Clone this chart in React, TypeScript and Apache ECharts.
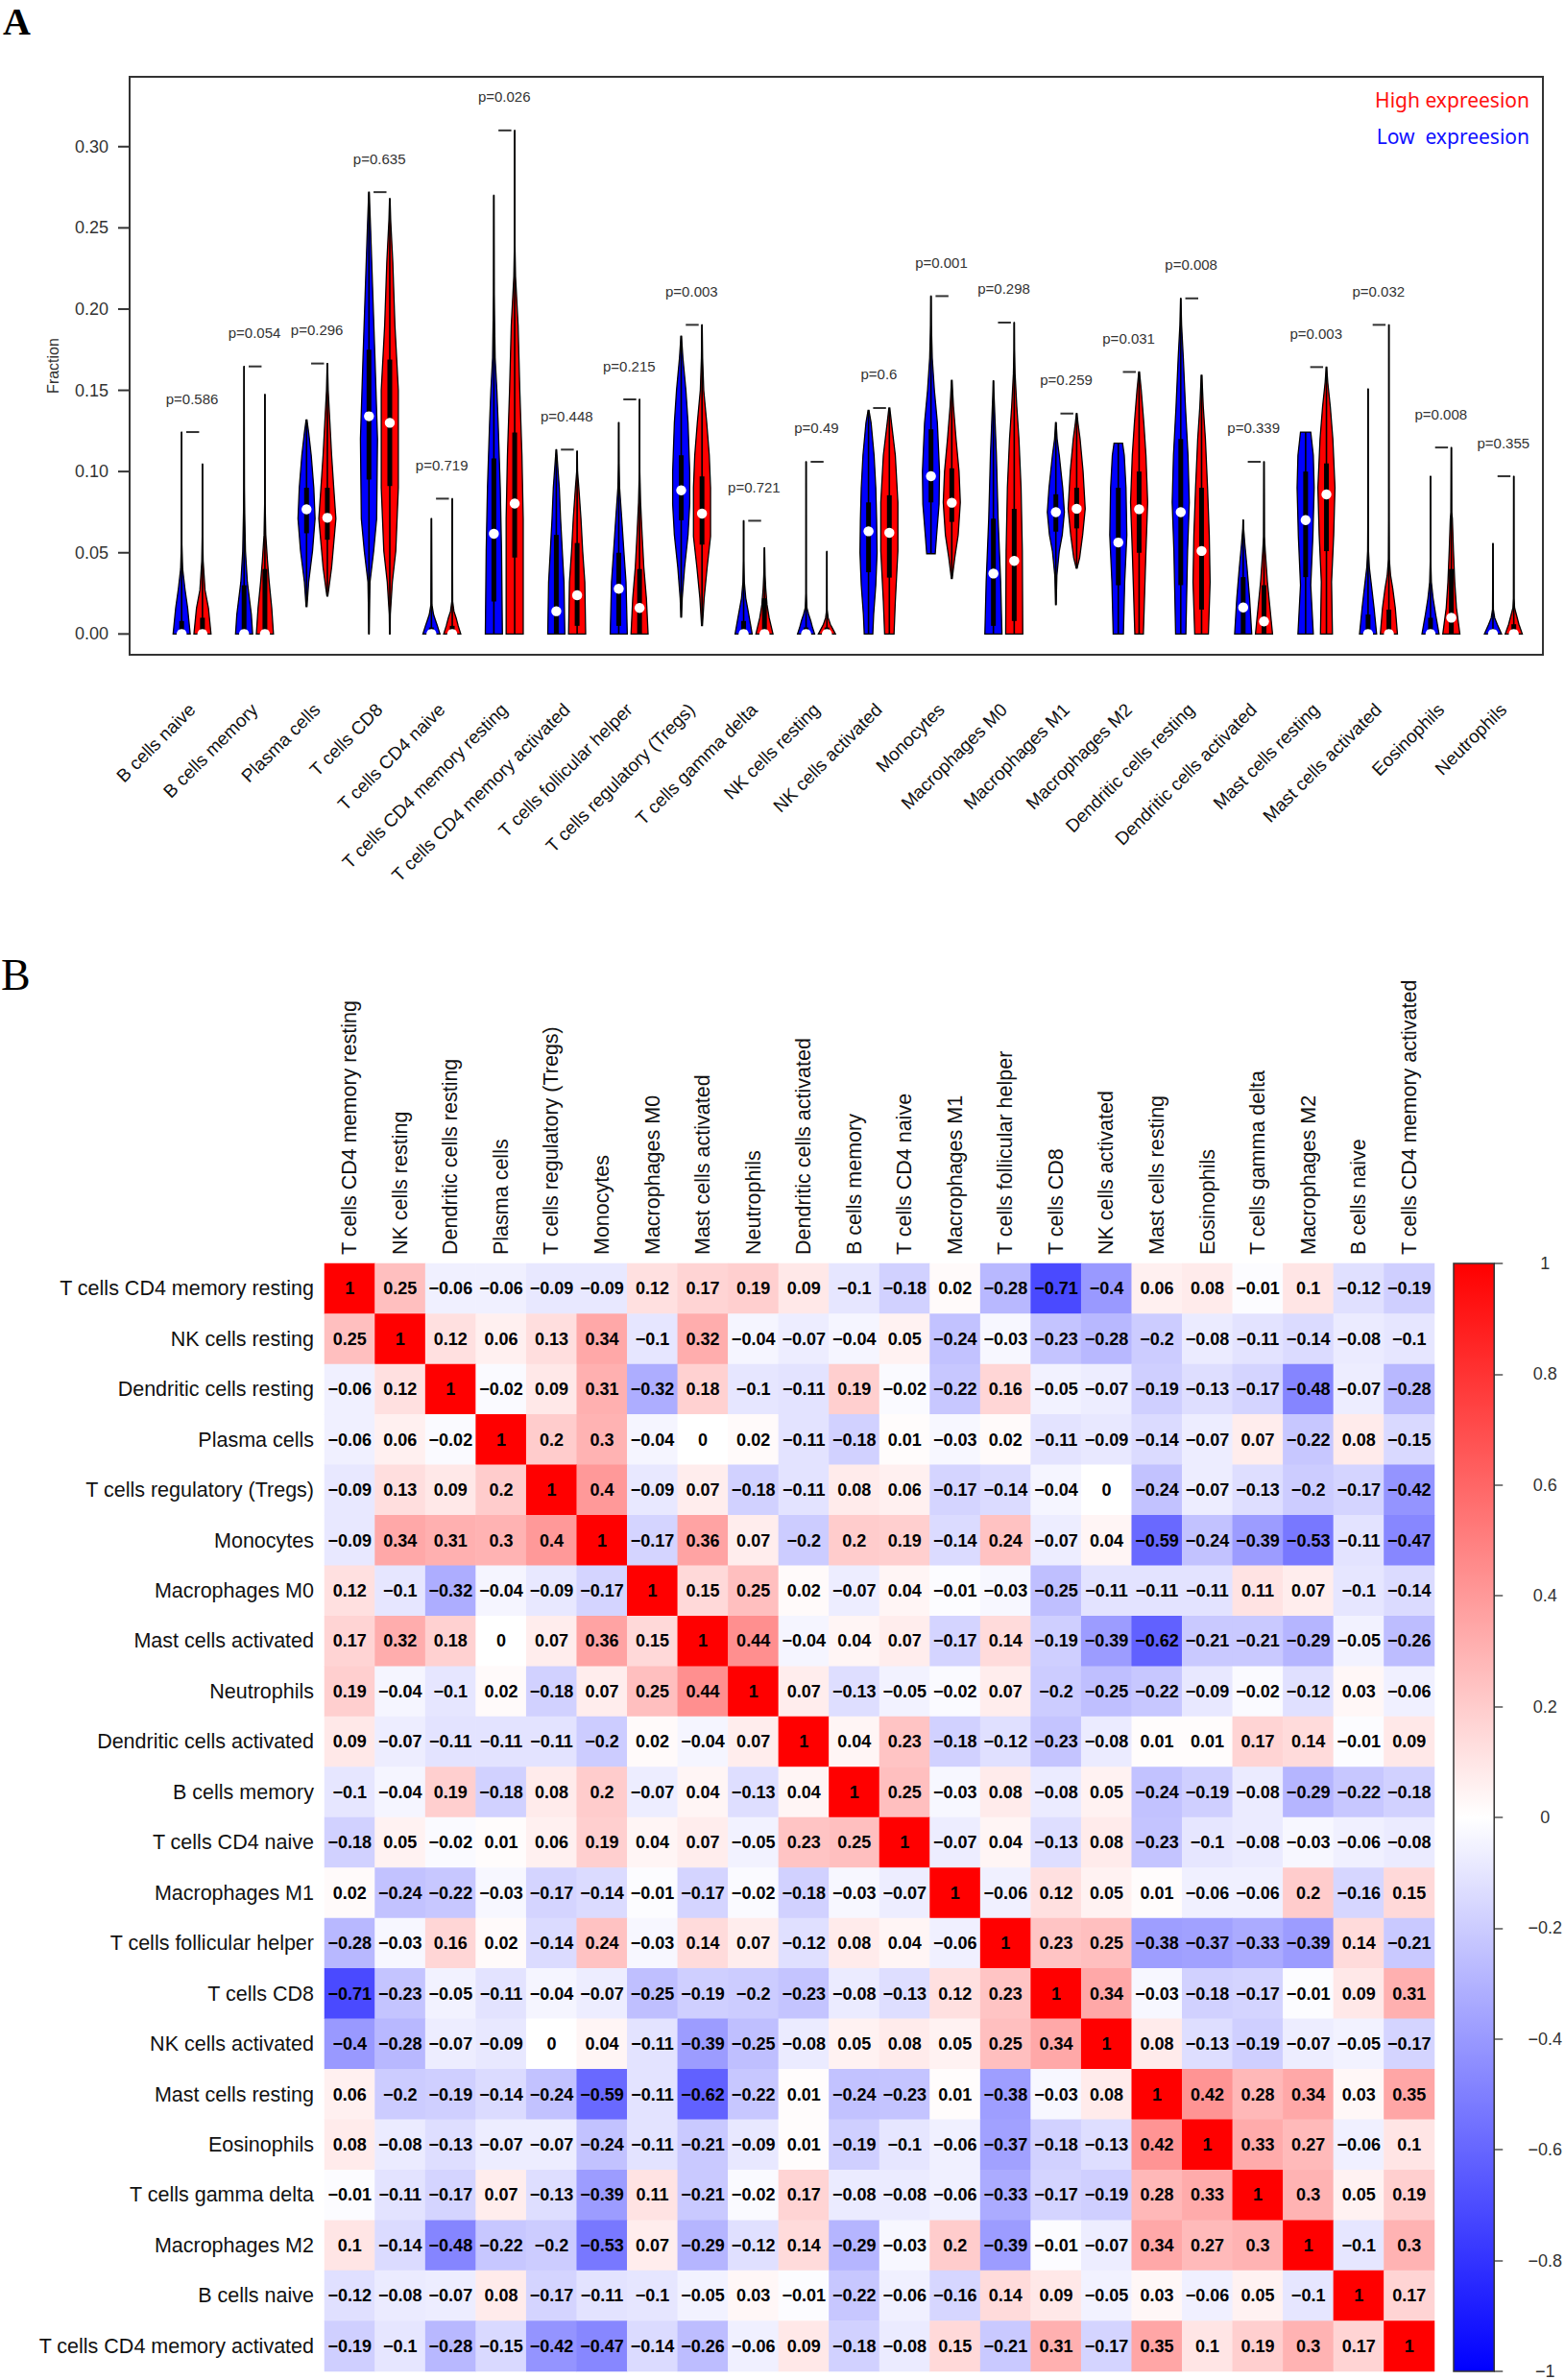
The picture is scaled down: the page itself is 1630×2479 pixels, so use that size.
import React, { useEffect, useRef } from "react";
import * as echarts from "echarts";

// ---------- Panel A data ----------
const CELL_TYPES = [
  "B cells naive", "B cells memory", "Plasma cells", "T cells CD8", "T cells CD4 naive",
  "T cells CD4 memory resting", "T cells CD4 memory activated", "T cells follicular helper",
  "T cells regulatory (Tregs)", "T cells gamma delta", "NK cells resting", "NK cells activated",
  "Monocytes", "Macrophages M0", "Macrophages M1", "Macrophages M2", "Dendritic cells resting",
  "Dendritic cells activated", "Mast cells resting", "Mast cells activated", "Eosinophils", "Neutrophils",
];
const P_VALUES = [
  "0.586", "0.054", "0.296", "0.635", "0.719", "0.026", "0.448", "0.215", "0.003", "0.721", "0.49",
  "0.6", "0.001", "0.298", "0.259", "0.031", "0.008", "0.339", "0.003", "0.032", "0.008", "0.355",
];
const Y_TICKS = [0, 0.05, 0.1, 0.15, 0.2, 0.25, 0.3];

// Low expression (blue)
const LOW_MIN = [0, 0, 0.0169, 0, 0, 0, 0, 0, 0.0104, 0, 0, 0, 0.0494, 0, 0.018, 0, 0, 0, 0, 0, 0, 0];
const LOW_Q1 = [0, 0, 0.062, 0.095, 0, 0.02, 0, 0.005, 0.07, 0, 0, 0.038, 0.081, 0.005, 0.063, 0.03, 0.03, 0, 0.035, 0, 0, 0];
const LOW_MEDIAN = [0, 0, 0.0767, 0.134, 0, 0.0617, 0.014, 0.0278, 0.0884, 0, 0, 0.0632, 0.0971, 0.0372, 0.075, 0.0563, 0.075, 0.0163, 0.0701, 0, 0, 0];
const LOW_Q3 = [0.008, 0.03, 0.09, 0.175, 0.004, 0.108, 0.061, 0.05, 0.11, 0.008, 0.004, 0.081, 0.126, 0.071, 0.086, 0.09, 0.12, 0.035, 0.1, 0.012, 0.01, 0.003];
const LOW_MAX = [0.1243, 0.1647, 0.1317, 0.272, 0.0711, 0.27, 0.1135, 0.1302, 0.1834, 0.0697, 0.106, 0.1377, 0.208, 0.1558, 0.1302, 0.1174, 0.2066, 0.0701, 0.1243, 0.1509, 0.0971, 0.0557];

// High expression (red)
const HIGH_MIN = [0, 0, 0.0234, 0, 0, 0, 0, 0, 0.0051, 0, 0, 0, 0.0341, 0, 0.0405, 0, 0, 0, 0, 0, 0, 0];
const HIGH_Q1 = [0, 0, 0.058, 0.091, 0, 0.047, 0.005, 0, 0.055, 0, 0, 0.0347, 0.069, 0.008, 0.065, 0.05, 0.015, 0, 0.051, 0, 0, 0];
const HIGH_MEDIAN = [0, 0, 0.0715, 0.13, 0, 0.0803, 0.0238, 0.016, 0.0741, 0, 0, 0.0623, 0.0808, 0.045, 0.0771, 0.0768, 0.0511, 0.0077, 0.0859, 0, 0.01, 0];
const HIGH_Q3 = [0.01, 0.04, 0.09, 0.169, 0.005, 0.124, 0.056, 0.04, 0.097, 0.022, 0.004, 0.0854, 0.102, 0.077, 0.09, 0.1, 0.09, 0.03, 0.105, 0.015, 0.04, 0.006];
const HIGH_MAX = [0.1046, 0.1475, 0.1665, 0.268, 0.0833, 0.31, 0.1125, 0.1444, 0.1903, 0.053, 0.0508, 0.1391, 0.1562, 0.1917, 0.1357, 0.1613, 0.1593, 0.106, 0.1643, 0.1903, 0.1148, 0.0971];

// violin outlines: [fraction, relative half-width] from bottom to top
const LOW_SHAPE = [
  [[0, 1], [0.008, 0.85], [0.016, 0.7], [0.028, 0.38], [0.04, 0.12], [0.055, 0.03], [0.1243, 0.01]],
  [[0, 1], [0.012, 0.85], [0.032, 0.38], [0.051, 0.16], [0.075, 0.07], [0.09, 0.04], [0.1647, 0.01]],
  [[0.0169, 0.05], [0.032, 0.25], [0.051, 0.7], [0.071, 1], [0.09, 0.85], [0.11, 0.55], [0.124, 0.25], [0.1317, 0.05]],
  [[0, 0.02], [0.012, 0.05], [0.032, 0.12], [0.051, 0.55], [0.071, 0.9], [0.12, 1], [0.17, 0.7], [0.209, 0.45], [0.248, 0.2], [0.272, 0.03]],
  [[0, 1], [0.005, 0.7], [0.008, 0.5], [0.012, 0.25], [0.018, 0.06], [0.0711, 0.01]],
  [[0, 1], [0.051, 0.9], [0.09, 0.75], [0.13, 0.5], [0.15, 0.35], [0.17, 0.15], [0.209, 0.04], [0.27, 0.01]],
  [[0, 1], [0.032, 0.9], [0.051, 0.7], [0.071, 0.5], [0.09, 0.35], [0.11, 0.08], [0.1135, 0.02]],
  [[0, 1], [0.032, 0.85], [0.051, 0.6], [0.071, 0.35], [0.09, 0.1], [0.105, 0.03], [0.1302, 0.01]],
  [[0.0104, 0.03], [0.022, 0.12], [0.041, 0.4], [0.061, 0.8], [0.08, 1], [0.1, 1], [0.13, 0.8], [0.15, 0.55], [0.17, 0.2], [0.1834, 0.03]],
  [[0, 1], [0.006, 0.8], [0.012, 0.6], [0.022, 0.25], [0.032, 0.08], [0.045, 0.02], [0.0697, 0.01]],
  [[0, 1], [0.004, 0.75], [0.008, 0.55], [0.012, 0.3], [0.016, 0.1], [0.025, 0.02], [0.106, 0.01]],
  [[0, 0.5], [0.012, 0.6], [0.03, 0.85], [0.05, 1], [0.07, 0.95], [0.09, 0.85], [0.11, 0.65], [0.13, 0.3], [0.1377, 0.05]],
  [[0.0494, 0.5], [0.06, 0.65], [0.08, 0.95], [0.1, 1], [0.13, 0.75], [0.15, 0.4], [0.17, 0.15], [0.19, 0.05], [0.208, 0.02]],
  [[0, 1], [0.032, 0.85], [0.071, 0.55], [0.11, 0.35], [0.13, 0.2], [0.15, 0.05], [0.1558, 0.02]],
  [[0.018, 0.03], [0.036, 0.12], [0.051, 0.4], [0.061, 0.75], [0.075, 1], [0.09, 0.8], [0.11, 0.4], [0.12, 0.15], [0.1302, 0.03]],
  [[0, 0.6], [0.032, 0.75], [0.061, 1], [0.09, 0.9], [0.11, 0.7], [0.1174, 0.5]],
  [[0, 0.6], [0.051, 0.8], [0.081, 1], [0.11, 0.85], [0.14, 0.55], [0.17, 0.3], [0.19, 0.1], [0.2066, 0.02]],
  [[0, 1], [0.022, 0.75], [0.041, 0.45], [0.055, 0.2], [0.065, 0.05], [0.0701, 0.02]],
  [[0, 0.9], [0.03, 0.6], [0.06, 0.85], [0.09, 1], [0.11, 0.9], [0.1243, 0.6]],
  [[0, 1], [0.016, 0.7], [0.032, 0.35], [0.041, 0.15], [0.051, 0.05], [0.08, 0.02], [0.1509, 0.01]],
  [[0, 1], [0.006, 0.8], [0.012, 0.6], [0.022, 0.3], [0.032, 0.1], [0.045, 0.03], [0.0971, 0.01]],
  [[0, 1], [0.003, 0.75], [0.006, 0.5], [0.01, 0.2], [0.015, 0.05], [0.0557, 0.01]],
];
const HIGH_SHAPE = [
  [[0, 1], [0.008, 0.85], [0.016, 0.7], [0.027, 0.3], [0.045, 0.08], [0.06, 0.03], [0.1046, 0.01]],
  [[0, 1], [0.016, 0.8], [0.032, 0.5], [0.045, 0.3], [0.061, 0.1], [0.08, 0.03], [0.1475, 0.01]],
  [[0.0234, 0.05], [0.027, 0.15], [0.041, 0.5], [0.071, 1], [0.09, 0.75], [0.11, 0.5], [0.13, 0.3], [0.15, 0.1], [0.1665, 0.02]],
  [[0, 0.03], [0.012, 0.06], [0.032, 0.3], [0.051, 0.7], [0.09, 1], [0.15, 1], [0.19, 0.6], [0.229, 0.35], [0.255, 0.1], [0.268, 0.03]],
  [[0, 1], [0.005, 0.7], [0.01, 0.45], [0.014, 0.2], [0.02, 0.05], [0.0833, 0.01]],
  [[0, 1], [0.071, 1], [0.11, 0.85], [0.15, 0.6], [0.19, 0.4], [0.22, 0.1], [0.24, 0.03], [0.31, 0.01]],
  [[0, 1], [0.032, 0.9], [0.051, 0.65], [0.071, 0.45], [0.09, 0.2], [0.1, 0.05], [0.1125, 0.02]],
  [[0, 1], [0.022, 0.8], [0.041, 0.5], [0.061, 0.3], [0.081, 0.12], [0.1, 0.03], [0.1444, 0.01]],
  [[0.0051, 0.05], [0.022, 0.25], [0.041, 0.6], [0.06, 1], [0.09, 1], [0.11, 0.85], [0.13, 0.55], [0.15, 0.2], [0.17, 0.07], [0.1903, 0.02]],
  [[0, 1], [0.01, 0.55], [0.018, 0.3], [0.028, 0.15], [0.036, 0.08], [0.053, 0.02]],
  [[0, 1], [0.004, 0.6], [0.006, 0.4], [0.01, 0.15], [0.015, 0.03], [0.0508, 0.01]],
  [[0, 0.55], [0.02, 0.7], [0.051, 1], [0.081, 1], [0.11, 0.7], [0.13, 0.25], [0.1391, 0.05]],
  [[0.0341, 0.05], [0.047, 0.35], [0.061, 0.75], [0.081, 1], [0.1, 0.85], [0.12, 0.5], [0.14, 0.2], [0.1562, 0.03]],
  [[0, 1], [0.051, 0.95], [0.09, 0.8], [0.12, 0.55], [0.14, 0.3], [0.16, 0.1], [0.175, 0.03], [0.1917, 0.01]],
  [[0.0405, 0.05], [0.047, 0.35], [0.061, 0.7], [0.077, 1], [0.1, 0.75], [0.12, 0.4], [0.13, 0.15], [0.1357, 0.03]],
  [[0, 0.5], [0.051, 0.8], [0.081, 1], [0.11, 0.8], [0.13, 0.55], [0.15, 0.25], [0.1613, 0.04]],
  [[0, 0.8], [0.032, 1], [0.061, 0.9], [0.09, 0.7], [0.12, 0.45], [0.14, 0.2], [0.1593, 0.04]],
  [[0, 1], [0.008, 0.85], [0.016, 0.7], [0.032, 0.4], [0.051, 0.15], [0.06, 0.05], [0.106, 0.01]],
  [[0, 0.7], [0.032, 0.6], [0.061, 0.85], [0.09, 1], [0.12, 0.75], [0.14, 0.45], [0.155, 0.15], [0.1643, 0.03]],
  [[0, 1], [0.016, 0.75], [0.028, 0.45], [0.036, 0.2], [0.046, 0.05], [0.07, 0.02], [0.1903, 0.01]],
  [[0, 1], [0.016, 0.6], [0.032, 0.4], [0.051, 0.25], [0.071, 0.12], [0.075, 0.05], [0.1148, 0.01]],
  [[0, 1], [0.006, 0.6], [0.012, 0.3], [0.016, 0.1], [0.022, 0.03], [0.0971, 0.01]],
];

// ---------- Panel B data ----------
const HM_LABELS = [
  "T cells CD4 memory resting", "NK cells resting", "Dendritic cells resting", "Plasma cells",
  "T cells regulatory (Tregs)", "Monocytes", "Macrophages M0", "Mast cells activated", "Neutrophils",
  "Dendritic cells activated", "B cells memory", "T cells CD4 naive", "Macrophages M1",
  "T cells follicular helper", "T cells CD8", "NK cells activated", "Mast cells resting", "Eosinophils",
  "T cells gamma delta", "Macrophages M2", "B cells naive", "T cells CD4 memory activated",
];
const CORR = [
  [1, 0.25, -0.06, -0.06, -0.09, -0.09, 0.12, 0.17, 0.19, 0.09, -0.1, -0.18, 0.02, -0.28, -0.71, -0.4, 0.06, 0.08, -0.01, 0.1, -0.12, -0.19],
  [0.25, 1, 0.12, 0.06, 0.13, 0.34, -0.1, 0.32, -0.04, -0.07, -0.04, 0.05, -0.24, -0.03, -0.23, -0.28, -0.2, -0.08, -0.11, -0.14, -0.08, -0.1],
  [-0.06, 0.12, 1, -0.02, 0.09, 0.31, -0.32, 0.18, -0.1, -0.11, 0.19, -0.02, -0.22, 0.16, -0.05, -0.07, -0.19, -0.13, -0.17, -0.48, -0.07, -0.28],
  [-0.06, 0.06, -0.02, 1, 0.2, 0.3, -0.04, 0, 0.02, -0.11, -0.18, 0.01, -0.03, 0.02, -0.11, -0.09, -0.14, -0.07, 0.07, -0.22, 0.08, -0.15],
  [-0.09, 0.13, 0.09, 0.2, 1, 0.4, -0.09, 0.07, -0.18, -0.11, 0.08, 0.06, -0.17, -0.14, -0.04, 0, -0.24, -0.07, -0.13, -0.2, -0.17, -0.42],
  [-0.09, 0.34, 0.31, 0.3, 0.4, 1, -0.17, 0.36, 0.07, -0.2, 0.2, 0.19, -0.14, 0.24, -0.07, 0.04, -0.59, -0.24, -0.39, -0.53, -0.11, -0.47],
  [0.12, -0.1, -0.32, -0.04, -0.09, -0.17, 1, 0.15, 0.25, 0.02, -0.07, 0.04, -0.01, -0.03, -0.25, -0.11, -0.11, -0.11, 0.11, 0.07, -0.1, -0.14],
  [0.17, 0.32, 0.18, 0, 0.07, 0.36, 0.15, 1, 0.44, -0.04, 0.04, 0.07, -0.17, 0.14, -0.19, -0.39, -0.62, -0.21, -0.21, -0.29, -0.05, -0.26],
  [0.19, -0.04, -0.1, 0.02, -0.18, 0.07, 0.25, 0.44, 1, 0.07, -0.13, -0.05, -0.02, 0.07, -0.2, -0.25, -0.22, -0.09, -0.02, -0.12, 0.03, -0.06],
  [0.09, -0.07, -0.11, -0.11, -0.11, -0.2, 0.02, -0.04, 0.07, 1, 0.04, 0.23, -0.18, -0.12, -0.23, -0.08, 0.01, 0.01, 0.17, 0.14, -0.01, 0.09],
  [-0.1, -0.04, 0.19, -0.18, 0.08, 0.2, -0.07, 0.04, -0.13, 0.04, 1, 0.25, -0.03, 0.08, -0.08, 0.05, -0.24, -0.19, -0.08, -0.29, -0.22, -0.18],
  [-0.18, 0.05, -0.02, 0.01, 0.06, 0.19, 0.04, 0.07, -0.05, 0.23, 0.25, 1, -0.07, 0.04, -0.13, 0.08, -0.23, -0.1, -0.08, -0.03, -0.06, -0.08],
  [0.02, -0.24, -0.22, -0.03, -0.17, -0.14, -0.01, -0.17, -0.02, -0.18, -0.03, -0.07, 1, -0.06, 0.12, 0.05, 0.01, -0.06, -0.06, 0.2, -0.16, 0.15],
  [-0.28, -0.03, 0.16, 0.02, -0.14, 0.24, -0.03, 0.14, 0.07, -0.12, 0.08, 0.04, -0.06, 1, 0.23, 0.25, -0.38, -0.37, -0.33, -0.39, 0.14, -0.21],
  [-0.71, -0.23, -0.05, -0.11, -0.04, -0.07, -0.25, -0.19, -0.2, -0.23, -0.08, -0.13, 0.12, 0.23, 1, 0.34, -0.03, -0.18, -0.17, -0.01, 0.09, 0.31],
  [-0.4, -0.28, -0.07, -0.09, 0, 0.04, -0.11, -0.39, -0.25, -0.08, 0.05, 0.08, 0.05, 0.25, 0.34, 1, 0.08, -0.13, -0.19, -0.07, -0.05, -0.17],
  [0.06, -0.2, -0.19, -0.14, -0.24, -0.59, -0.11, -0.62, -0.22, 0.01, -0.24, -0.23, 0.01, -0.38, -0.03, 0.08, 1, 0.42, 0.28, 0.34, 0.03, 0.35],
  [0.08, -0.08, -0.13, -0.07, -0.07, -0.24, -0.11, -0.21, -0.09, 0.01, -0.19, -0.1, -0.06, -0.37, -0.18, -0.13, 0.42, 1, 0.33, 0.27, -0.06, 0.1],
  [-0.01, -0.11, -0.17, 0.07, -0.13, -0.39, 0.11, -0.21, -0.02, 0.17, -0.08, -0.08, -0.06, -0.33, -0.17, -0.19, 0.28, 0.33, 1, 0.3, 0.05, 0.19],
  [0.1, -0.14, -0.48, -0.22, -0.2, -0.53, 0.07, -0.29, -0.12, 0.14, -0.29, -0.03, 0.2, -0.39, -0.01, -0.07, 0.34, 0.27, 0.3, 1, -0.1, 0.3],
  [-0.12, -0.08, -0.07, 0.08, -0.17, -0.11, -0.1, -0.05, 0.03, -0.01, -0.22, -0.06, -0.16, 0.14, 0.09, -0.05, 0.03, -0.06, 0.05, -0.1, 1, 0.17],
  [-0.19, -0.1, -0.28, -0.15, -0.42, -0.47, -0.14, -0.26, -0.06, 0.09, -0.18, -0.08, 0.15, -0.21, 0.31, -0.17, 0.35, 0.1, 0.19, 0.3, 0.17, 1],
];

const SANS = "'Liberation Sans', Arial, Helvetica, sans-serif";
const HALF_WIDTH = 0.41;

function fmtCorr(v: number): string {
  return String(v).replace("-", "\u2212");
}

export default function App() {
  const ref = useRef<HTMLDivElement>(null);

  useEffect(() => {
    document.body.style.margin = "0";
    if (!ref.current) return;
    const chart = echarts.init(ref.current, undefined, { renderer: "svg" });

    const violinData: number[][] = [];
    CELL_TYPES.forEach((_, i) => {
      violinData.push([3 * i + 1, LOW_MIN[i], LOW_Q1[i], LOW_MEDIAN[i], LOW_Q3[i], LOW_MAX[i], i, 0]);
      violinData.push([3 * i + 2, HIGH_MIN[i], HIGH_Q1[i], HIGH_MEDIAN[i], HIGH_Q3[i], HIGH_MAX[i], i, 1]);
    });
    const pData = CELL_TYPES.map((_, i) => [3 * i + 1.5, Math.max(LOW_MAX[i], HIGH_MAX[i]), i]);
    const centers = CELL_TYPES.map((_, i) => 3 * i + 1.5);
    const X_MIN = -1.5;

    const hmData: number[][] = [];
    CORR.forEach((row, r) => row.forEach((v, c) => hmData.push([c, r, v])));

    const option: any = {
      animation: false,
      backgroundColor: "#ffffff",
      grid: [
        { left: 135, top: 80, width: 1472, height: 602, show: true, borderColor: "#333", borderWidth: 2, backgroundColor: "transparent" },
        { left: 338, top: 1316, width: 1156, height: 1154 },
        { left: 1514, top: 1316, width: 44, height: 1154 },
      ],
      xAxis: [
        {
          type: "value", gridIndex: 0, min: X_MIN, max: 66.4,
          axisLine: { show: false, onZero: false }, axisTick: { show: false }, splitLine: { show: false },
          axisLabel: {
            customValues: centers,
            formatter: (v: number) => CELL_TYPES[Math.round((v - 1.5) / 3)] ?? "",
            rotate: 45, margin: 54, fontSize: 19, color: "#111", fontFamily: SANS,
          },
        },
        {
          type: "category", gridIndex: 1, position: "top", data: HM_LABELS,
          axisLine: { show: false }, axisTick: { show: false }, splitLine: { show: false },
          axisLabel: { rotate: -90, interval: 0, margin: 9, fontSize: 21.5, color: "#111", fontFamily: SANS },
        },
        { type: "value", gridIndex: 2, min: 0, max: 1, show: false },
      ],
      yAxis: [
        {
          type: "value", gridIndex: 0, min: -0.0128, max: 0.343,
          axisLine: { show: false, onZero: false }, splitLine: { show: false },
          axisTick: { show: false },
          axisLabel: {
            customValues: Y_TICKS, formatter: (v: number) => v.toFixed(2),
            margin: 22, fontSize: 18, color: "#333", fontFamily: SANS,
          },
          name: "Fraction", nameLocation: "middle", nameGap: 72,
          nameTextStyle: { fontSize: 16, color: "#333", fontFamily: SANS },
        },
        {
          type: "category", gridIndex: 1, data: HM_LABELS, inverse: true,
          axisLine: { show: false }, axisTick: { show: false }, splitLine: { show: false },
          axisLabel: { interval: 0, margin: 11, fontSize: 21.5, color: "#111", fontFamily: SANS },
        },
        {
          type: "value", gridIndex: 2, min: -1, max: 1, interval: 0.2, position: "right",
          axisLine: { show: false, onZero: false }, splitLine: { show: false },
          axisTick: { show: true, length: 9, lineStyle: { color: "#555", width: 1.5 } },
          axisLabel: {
            formatter: (v: number) => fmtCorr(Math.round(v * 10) / 10),
            align: "center", margin: 53, fontSize: 18, color: "#333", fontFamily: SANS,
          },
        },
      ],
      visualMap: {
        type: "continuous", min: -1, max: 1, show: false, seriesIndex: 2,
        inRange: { color: ["#0000FF", "#FFFFFF", "#FF0000"] },
      },
      series: [
        {
          type: "custom", xAxisIndex: 0, yAxisIndex: 0, data: violinData,
          encode: { x: 0, y: [1, 5] },
          renderItem: (_p: any, api: any) => {
            const x = api.value(0);
            const i = api.value(6);
            const g = api.value(7);
            const prof = g === 0 ? LOW_SHAPE[i] : HIGH_SHAPE[i];
            const hw = api.size([HALF_WIDTH, 0])[0];
            const right = prof.map(([v, w]: number[]) => {
              const p = api.coord([x, v]);
              return [p[0] + w * hw, p[1]];
            });
            const left = prof.map(([v, w]: number[]) => {
              const p = api.coord([x, v]);
              return [p[0] - w * hw, p[1]];
            }).reverse();
            const pMin = api.coord([x, api.value(1)]);
            const pQ1 = api.coord([x, api.value(2)]);
            const pMed = api.coord([x, api.value(3)]);
            const pQ3 = api.coord([x, api.value(4)]);
            const pMax = api.coord([x, api.value(5)]);
            return {
              type: "group",
              children: [
                { type: "polygon", shape: { points: right.concat(left) }, style: { fill: g === 0 ? "#0000FF" : "#FF0000", stroke: "#000", lineWidth: 1.3 } },
                { type: "line", shape: { x1: pMin[0], y1: pMin[1], x2: pMax[0], y2: pMax[1] }, style: { stroke: "#000", lineWidth: 1.6 } },
                { type: "line", shape: { x1: pQ1[0], y1: pQ1[1], x2: pQ3[0], y2: pQ3[1] }, style: { stroke: "#000", lineWidth: 5 } },
                { type: "circle", shape: { cx: pMed[0], cy: pMed[1], r: 5.2 }, style: { fill: "#ffffff" } },
              ],
            };
          },
        },
        {
          type: "custom", xAxisIndex: 0, yAxisIndex: 0, data: pData,
          encode: { x: 0, y: 1 },
          renderItem: (_p: any, api: any) => {
            const x = api.value(0);
            const y = api.value(1);
            const i = api.value(2);
            const a = api.coord([x - 0.28, y]);
            const b = api.coord([x + 0.34, y]);
            const c = api.coord([x, y]);
            return {
              type: "group",
              children: [
                { type: "line", shape: { x1: a[0], y1: a[1], x2: b[0], y2: b[1] }, style: { stroke: "#333", lineWidth: 2 } },
                {
                  type: "text", x: c[0], y: c[1] - 35,
                  style: {
                    text: "p=" + P_VALUES[i], fill: "#333", fontSize: 15, fontFamily: SANS,
                    align: "center", verticalAlign: "middle", textAlign: "center", textVerticalAlign: "middle",
                  },
                },
              ],
            };
          },
        },
        {
          type: "heatmap", xAxisIndex: 1, yAxisIndex: 1, data: hmData,
          label: {
            show: true, formatter: (p: any) => fmtCorr(p.value[2]),
            fontSize: 18, fontWeight: "bold", color: "#000", fontFamily: SANS,
          },
          itemStyle: { borderWidth: 0 },
          emphasis: { disabled: true },
        },
        {
          type: "custom", xAxisIndex: 2, yAxisIndex: 2, data: [[0, 1, 1, -1]],
          encode: { x: [0, 2], y: [1, 3] },
          renderItem: (_p: any, api: any) => {
            const tl = api.coord([api.value(0), api.value(1)]);
            const br = api.coord([api.value(2), api.value(3)]);
            return {
              type: "rect",
              shape: { x: tl[0], y: tl[1], width: br[0] - tl[0], height: br[1] - tl[1] },
              style: {
                fill: new echarts.graphic.LinearGradient(0, 0, 0, 1, [
                  { offset: 0, color: "#FF0000" },
                  { offset: 0.5, color: "#FFFFFF" },
                  { offset: 1, color: "#0000FF" },
                ]),
                stroke: "#333", lineWidth: 1.5,
              },
            };
          },
        },
        {
          // y-axis tick marks of panel A, drawn outside the frame
          type: "custom", xAxisIndex: 0, yAxisIndex: 0, data: Y_TICKS.map((v) => [X_MIN, v]),
          encode: { x: 0, y: 1 }, clip: false, z: 10,
          renderItem: (_p: any, api: any) => {
            const p = api.coord([api.value(0), api.value(1)]);
            return {
              type: "polyline",
              shape: { points: [[p[0] - 12, p[1]], [p[0] - 1, p[1]]] },
              style: { stroke: "#333", lineWidth: 2, fill: "none" },
            };
          },
        },
      ],
      graphic: [
        { type: "text", left: 3, top: 2, style: { text: "A", fontSize: 40, fontWeight: "bold", fontFamily: "'Liberation Serif', 'Times New Roman', serif", fill: "#000" } },
        { type: "text", left: 1, top: 992, style: { text: "B", fontSize: 46, fontFamily: "'Liberation Serif', 'Times New Roman', serif", fill: "#000" } },
        { type: "text", x: 1593, y: 104, style: { text: "High expreesion", fontSize: 21, fontFamily: "'Noto Sans', sans-serif", fill: "#FF1010", align: "right", verticalAlign: "middle" } },
        { type: "text", x: 1593, y: 142, style: { text: "Low  expreesion", fontSize: 21, fontFamily: "'Noto Sans', sans-serif", fill: "#1010FF", align: "right", verticalAlign: "middle" } },
      ],
    };

    chart.setOption(option);
    return () => chart.dispose();
  }, []);

  return <div ref={ref} style={{ width: "1630px", height: "2479px", background: "#fff" }} />;
}
